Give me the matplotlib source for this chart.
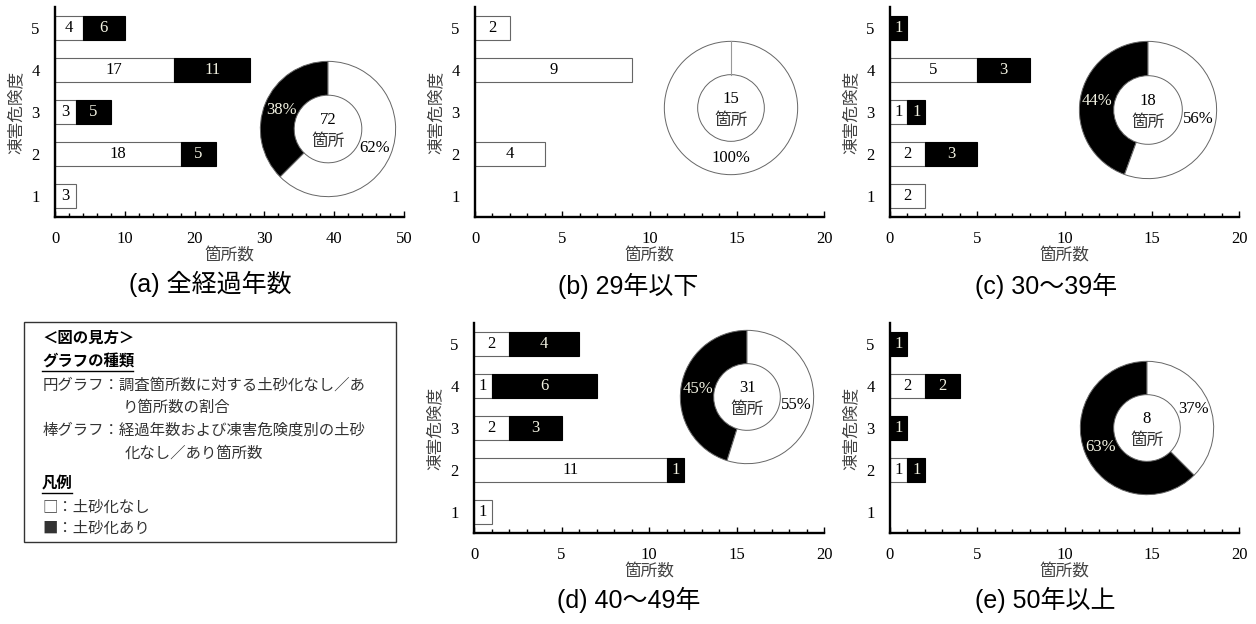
import matplotlib
matplotlib.use('Agg')
import matplotlib.pyplot as plt
from matplotlib.ticker import MultipleLocator
from matplotlib.lines import Line2D
from matplotlib.patches import Rectangle

plt.rcParams['font.family'] = ['Liberation Serif', 'Noto Sans CJK JP']

### data
levels = [1, 2, 3, 4, 5]

# (a) all ages
all_none = [3, 18, 3, 17, 4]
all_soil = [0, 5, 5, 11, 6]
all_pct = ['38%', '62%']
# (b) 29 years or less
b_none = [0, 4, 0, 9, 2]
b_soil = [0, 0, 0, 0, 0]
b_pct = ['', '100%']
# (c) 30-39 years
c_none = [2, 2, 1, 5, 0]
c_soil = [0, 3, 1, 3, 1]
c_pct = ['44%', '56%']
# (d) 40-49 years
d_none = [1, 11, 2, 1, 2]
d_soil = [0, 1, 3, 6, 4]
d_pct = ['45%', '55%']
# (e) 50 years or more
e_none = [0, 1, 0, 2, 0]
e_soil = [0, 1, 1, 2, 1]
e_pct = ['63%', '37%']

captions = ['(a) 全経過年数', '(b) 29年以下', '(c) 30～39年', '(d) 40～49年', '(e) 50年以上']
xmax = [50, 20, 20, 20, 20]
xmajor = [10, 5, 5, 5, 5]
xminor = [2, 1, 1, 1, 1]

W, H = 1256, 624
fig = plt.figure(figsize=(W / 100, H / 100), dpi=100)


def px_axes(x0, y0, x1, y1):
    # pixel box (top-left origin) -> figure axes
    return fig.add_axes([x0 / W, 1 - y1 / H, (x1 - x0) / W, (y1 - y0) / H])


SOFT = '#f2f2e2'


def bar_panel(box, none, soil, xm, maj, mnr):
    ax = px_axes(*box)
    for i, lv in enumerate(levels):
        if none[i] > 0:
            ax.barh(lv, none[i], height=0.58, color='white', edgecolor='#666666', linewidth=0.8)
            ax.text(none[i] / 2, lv, str(none[i]), ha='center', va='center', fontsize=12)
        if soil[i] > 0:
            ax.barh(lv, soil[i], left=none[i], height=0.58, color='black', edgecolor='black', linewidth=0.8)
            ax.text(none[i] + soil[i] / 2, lv, str(soil[i]), ha='center', va='center',
                    fontsize=12, color=SOFT)
    ax.set_xlim(0, xm)
    ax.set_ylim(0.5, 5.5)
    ax.set_yticks(levels)
    ax.xaxis.set_major_locator(MultipleLocator(maj))
    ax.xaxis.set_minor_locator(MultipleLocator(mnr))
    ax.tick_params(axis='x', which='major', direction='in', length=4, width=1, labelsize=12, pad=10)
    ax.tick_params(axis='x', which='minor', direction='in', length=3, width=1)
    ax.tick_params(axis='y', length=0, labelsize=12, pad=11)
    for s in ['top', 'right']:
        ax.spines[s].set_visible(False)
    for s in ['left', 'bottom']:
        ax.spines[s].set_linewidth(1.7)
    ax.set_xlabel('箇所数', fontsize=12, color='#444444', family=['Noto Sans CJK JP'])
    ax.set_ylabel('凍害危険度', fontsize=12, color='#444444', family=['Noto Sans CJK JP'])
    ax.xaxis.set_label_coords(0.5, -0.145)
    ax.yaxis.set_label_coords(-0.088, 0.5)
    return ax


def donut(cx, cy, r, none, soil, pct):
    ax = px_axes(cx - r, cy - r, cx + r, cy + r)
    tot_none, tot_soil = sum(none), sum(soil)
    wedges, texts, autos = ax.pie([tot_soil, tot_none], startangle=90, counterclock=True,
                                  colors=['black', 'white'], radius=1, autopct=lambda p: '',
                                  pctdistance=0.75,
                                  wedgeprops=dict(width=0.5, edgecolor='#666666', linewidth=0.7))
    if tot_soil == 0:
        # empty wedge still leaves its boundary line at the top
        ax.plot([0, 0], [0.5, 1], color='#999999', linewidth=0.8)
    for t, lab, col in zip(autos, pct, [SOFT, 'black']):
        t.set_text(lab)
        t.set_color(col)
        t.set_fontsize(12)
    ax.text(0, 0.13, str(tot_none + tot_soil), ha='center', va='center', fontsize=12)
    ax.text(0, -0.18, '箇所', ha='center', va='center', fontsize=12,
            family=['Noto Sans CJK JP'], color='#333333')
    ax.set_xlim(-1.02, 1.02)
    ax.set_ylim(-1.02, 1.02)
    ax.set_aspect('equal')
    ax.axis('off')


bar_panel((55, 7, 404, 217), all_none, all_soil, xmax[0], xmajor[0], xminor[0])
donut(328, 129, 69, all_none, all_soil, all_pct)

bar_panel((475, 7, 824, 217), b_none, b_soil, xmax[1], xmajor[1], xminor[1])
donut(731, 108, 68, b_none, b_soil, b_pct)

bar_panel((890, 7, 1239, 217), c_none, c_soil, xmax[2], xmajor[2], xminor[2])
donut(1148, 110, 70, c_none, c_soil, c_pct)

bar_panel((474, 323, 824, 533), d_none, d_soil, xmax[3], xmajor[3], xminor[3])
donut(747, 397, 68, d_none, d_soil, d_pct)

bar_panel((890, 323, 1239, 533), e_none, e_soil, xmax[4], xmajor[4], xminor[4])
donut(1147, 428, 68, e_none, e_soil, e_pct)

# captions
cap_pos = [(210, 284), (628, 286), (1046, 286), (629, 600), (1045, 600)]
for (x, y), cap in zip(cap_pos, captions):
    fig.text(x / W, 1 - y / H, cap, ha='center', va='center', fontsize=18,
             family=['Liberation Sans', 'Noto Sans CJK JP'])

# explanation box
fig.patches.append(Rectangle((24 / W, 1 - 542 / H), (396 - 24) / W, (542 - 322) / H,
                             transform=fig.transFigure, fill=False, edgecolor='#333333', linewidth=1))
box_lines = [
    (42, 338, '＜図の見方＞', True),
    (42, 362, 'グラフの種類', True),
    (43, 385, '円グラフ：調査箇所数に対する土砂化なし／あ', False),
    (123, 407, 'り箇所数の割合', False),
    (43, 430, '棒グラフ：経過年数および凍害危険度別の土砂', False),
    (125, 453, '化なし／あり箇所数', False),
    (42, 483, '凡例', True),
    (42, 507, '□：土砂化なし', False),
    (42, 528, '■：土砂化あり', False),
]
for x, y, s, bold in box_lines:
    fig.text(x / W, 1 - y / H, s, ha='left', va='center', fontsize=11.1,
             family=['Noto Sans CJK JP'], color='black' if bold else '#333333',
             fontweight='bold' if bold else 'normal')
# underlines
for x0, x1, y in [(42, 133, 371), (42, 72, 493)]:
    fig.lines.append(Line2D([x0 / W, x1 / W], [1 - y / H, 1 - y / H], transform=fig.transFigure,
                            color='black', linewidth=1))

fig.savefig('out.png', dpi=100)
